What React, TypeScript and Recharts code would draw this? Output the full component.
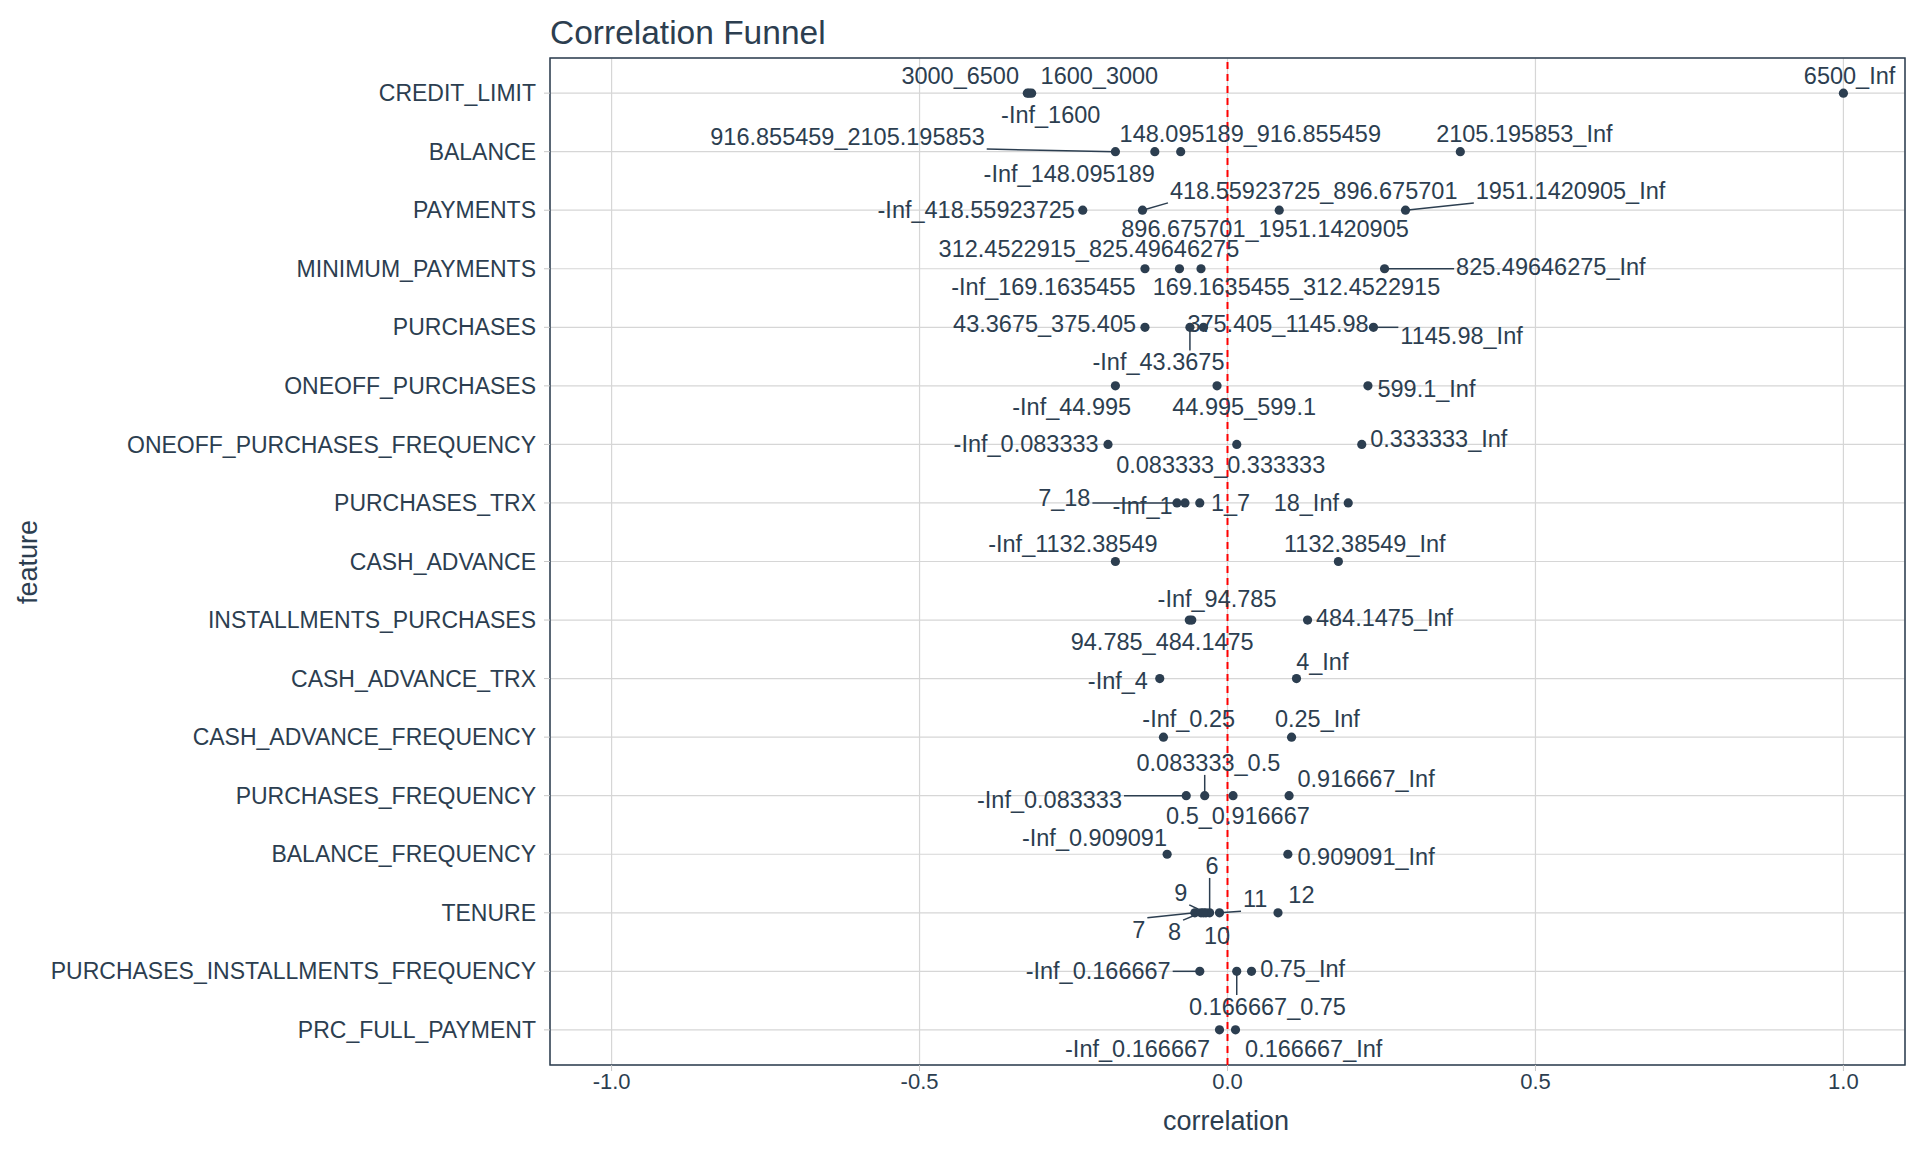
import React from 'react';
import { ScatterChart, Scatter, XAxis, YAxis, CartesianGrid, ReferenceLine, ReferenceArea } from 'recharts';

const features = [
  'CREDIT_LIMIT', 'BALANCE', 'PAYMENTS', 'MINIMUM_PAYMENTS', 'PURCHASES', 'ONEOFF_PURCHASES',
  'ONEOFF_PURCHASES_FREQUENCY', 'PURCHASES_TRX', 'CASH_ADVANCE', 'INSTALLMENTS_PURCHASES',
  'CASH_ADVANCE_TRX', 'CASH_ADVANCE_FREQUENCY', 'PURCHASES_FREQUENCY', 'BALANCE_FREQUENCY',
  'TENURE', 'PURCHASES_INSTALLMENTS_FREQUENCY', 'PRC_FULL_PAYMENT',
];
const xTicks = [-1, -0.5, 0, 0.5, 1];

// feature row (1-based), bin label, correlation
const pointRow = [1,1,1,1, 2,2,2,2, 3,3,3,3, 4,4,4,4, 5,5,5,5, 6,6,6, 7,7,7, 8,8,8,8, 9,9, 10,10,10, 11,11, 12,12, 13,13,13,13, 14,14, 15,15,15,15,15,15,15, 16,16,16, 17,17];
const binLabels = [
  '-Inf_1600', '1600_3000', '3000_6500', '6500_Inf',
  '-Inf_148.095189', '148.095189_916.855459', '916.855459_2105.195853', '2105.195853_Inf',
  '-Inf_418.55923725', '418.55923725_896.675701', '896.675701_1951.1420905', '1951.1420905_Inf',
  '-Inf_169.1635455', '169.1635455_312.4522915', '312.4522915_825.49646275', '825.49646275_Inf',
  '-Inf_43.3675', '43.3675_375.405', '375.405_1145.98', '1145.98_Inf',
  '-Inf_44.995', '44.995_599.1', '599.1_Inf',
  '-Inf_0.083333', '0.083333_0.333333', '0.333333_Inf',
  '-Inf_1', '1_7', '7_18', '18_Inf',
  '-Inf_1132.38549', '1132.38549_Inf',
  '-Inf_94.785', '94.785_484.1475', '484.1475_Inf',
  '-Inf_4', '4_Inf',
  '-Inf_0.25', '0.25_Inf',
  '-Inf_0.083333', '0.083333_0.5', '0.5_0.916667', '0.916667_Inf',
  '-Inf_0.909091', '0.909091_Inf',
  '6', '7', '8', '9', '10', '11', '12',
  '-Inf_0.166667', '0.166667_0.75', '0.75_Inf',
  '-Inf_0.166667', '0.166667_Inf',
];
const correlations = [
  -0.325, -0.318, -0.322, 1.0,
  -0.118, -0.076, -0.182, 0.378,
  -0.235, -0.138, 0.084, 0.289,
  -0.134, -0.043, -0.078, 0.255,
  -0.061, -0.134, -0.039, 0.237,
  -0.182, -0.017, 0.228,
  -0.194, 0.015, 0.218,
  -0.069, -0.045, -0.082, 0.196,
  -0.182, 0.18,
  -0.062, -0.058, 0.13,
  -0.11, 0.112,
  -0.104, 0.104,
  -0.067, -0.037, 0.009, 0.1,
  -0.098, 0.098,
  -0.029, -0.053, -0.043, -0.035, -0.039, -0.013, 0.082,
  -0.045, 0.015, 0.039,
  -0.013, 0.013,
];
// repelled label positions (correlation units, row offsets)
const labelX = [
  -0.287, -0.208, -0.434, 1.01,
  -0.257, 0.037, -0.617, 0.482,
  -0.408, 0.14, 0.061, 0.557,
  -0.299, 0.112, -0.225, 0.525,
  -0.112, -0.297, 0.082, 0.38,
  -0.253, 0.027, 0.323,
  -0.327, -0.011, 0.343,
  -0.138, 0.005, -0.265, 0.128,
  -0.251, 0.223,
  -0.017, -0.106, 0.255,
  -0.178, 0.154,
  -0.063, 0.146,
  -0.289, -0.031, 0.017, 0.225,
  -0.216, 0.225,
  -0.025, -0.144, -0.086, -0.076, -0.017, 0.045, 0.12,
  -0.21, 0.065, 0.122,
  -0.146, 0.14,
];
const labelDY = [
  0.38, -0.29, -0.29, -0.29,
  0.38, -0.31, -0.25, -0.31,
  0, -0.33, 0.32, -0.33,
  0.31, 0.31, -0.34, -0.03,
  0.6, -0.05, -0.05, 0.14,
  0.36, 0.36, 0.06,
  0, 0.36, -0.1,
  0.05, 0, -0.08, 0,
  -0.3, -0.3,
  -0.36, 0.37, -0.03,
  0.04, -0.29,
  -0.31, -0.31,
  0.07, -0.56, 0.34, -0.28,
  -0.28, 0.05,
  -0.8, 0.29, 0.33, -0.34, 0.4, -0.23, -0.3,
  0, 0.61, -0.04,
  0.32, 0.32,
];

const INK = '#2c3e50';
const FONT = '"Liberation Sans", Arial, sans-serif';
const LFS = 23.5;
const W = 1920, H = 1152;
const M = { top: 58, right: 15, left: 0, bottom: 0 };
const YW = 550, XH = 87;
const PX_PER_X = (W - M.right - YW) / 2.2;
const PX_PER_Y = (H - M.top - XH) / 17.2;

let ctx: CanvasRenderingContext2D | null = null;
function textW(s: string) {
  if (!ctx) { ctx = document.createElement('canvas').getContext('2d'); if (ctx) ctx.font = LFS + 'px ' + FONT; }
  return ctx ? ctx.measureText(s).width : s.length * 13;
}

const points = correlations.map((c, i) => ({ x: c, y: pointRow[i] }));
const labels = correlations.map((c, i) => ({ x: labelX[i], y: pointRow[i] + labelDY[i], text: binLabels[i] }));

// leader segments from point to nearest label-box edge
const segments: { a: { x: number; y: number }; b: { x: number; y: number } }[] = [];
points.forEach((p, i) => {
  const l = labels[i];
  const hw = textW(l.text) / 2 + 2, hh = 12;
  const dx = (p.x - l.x) * PX_PER_X, dy = (p.y - l.y) * PX_PER_Y;
  const cx = Math.max(-hw, Math.min(hw, dx)), cy = Math.max(-hh, Math.min(hh, dy));
  const dist = Math.hypot(dx - cx, dy - cy);
  if (dist > 18) {
    segments.push({ a: { x: p.x, y: p.y }, b: { x: l.x + cx / PX_PER_X, y: l.y + cy / PX_PER_Y } });
  }
});

const Dot = (props: any) => <circle cx={props.cx} cy={props.cy} r={4.6} fill={INK} />;
const Lbl = (props: any) => (
  <text x={props.cx} y={props.cy} textAnchor="middle" dominantBaseline="central" fontSize={LFS} fontFamily={FONT} fill={INK}>
    {props.payload.text}
  </text>
);

export default function App() {
  return (
    <div style={{ position: 'absolute', left: 0, top: 0, width: W, height: H, background: '#fff', fontFamily: FONT }}>
      <div style={{ position: 'absolute', left: 550, top: 14, fontSize: 33.5, color: INK }}>Correlation Funnel</div>
      <div style={{ position: 'absolute', left: 1226, top: 1106, fontSize: 27, color: INK, transform: 'translateX(-50%)', whiteSpace: 'nowrap' }}>correlation</div>
      <div style={{ position: 'absolute', left: 28, top: 562, fontSize: 27, color: INK, transform: 'translate(-50%,-50%) rotate(-90deg)' }}>feature</div>
      <ScatterChart width={W} height={H} margin={M}>
        <CartesianGrid stroke="#d6d6d6" strokeWidth={1.2} />
        <XAxis type="number" dataKey="x" domain={[-1.1, 1.1]} ticks={xTicks} allowDataOverflow height={XH}
          tickFormatter={(v: number) => v.toFixed(1)} axisLine={false}
          tickLine={{ stroke: '#c8c8c8' }} tickSize={6}
          tick={{ fontSize: 22, fill: INK, fontFamily: FONT }} />
        <YAxis type="number" dataKey="y" domain={[0.4, 17.6]} reversed allowDataOverflow width={YW}
          ticks={features.map((_, i) => i + 1)} interval={0}
          tickFormatter={(v: number) => features[v - 1] || ''} axisLine={false}
          tickLine={{ stroke: '#c8c8c8' }} tickSize={6}
          tick={{ fontSize: 23, fill: INK, fontFamily: FONT, dx: -6 }} />
        <ReferenceArea x1={-1.1} x2={1.1} y1={0.4} y2={17.6} fill="none" stroke={INK} strokeWidth={1.5} ifOverflow="visible" />
        <ReferenceLine x={0} stroke="#ff0000" strokeWidth={2} strokeDasharray="7 5" />
        {segments.map((s, i) => (
          <ReferenceLine key={i} segment={[s.a, s.b]} stroke={INK} strokeWidth={1.5} ifOverflow="visible" />
        ))}
        <Scatter data={points} shape={Dot} isAnimationActive={false} />
        <Scatter data={labels} shape={Lbl} isAnimationActive={false} />
      </ScatterChart>
    </div>
  );
}
